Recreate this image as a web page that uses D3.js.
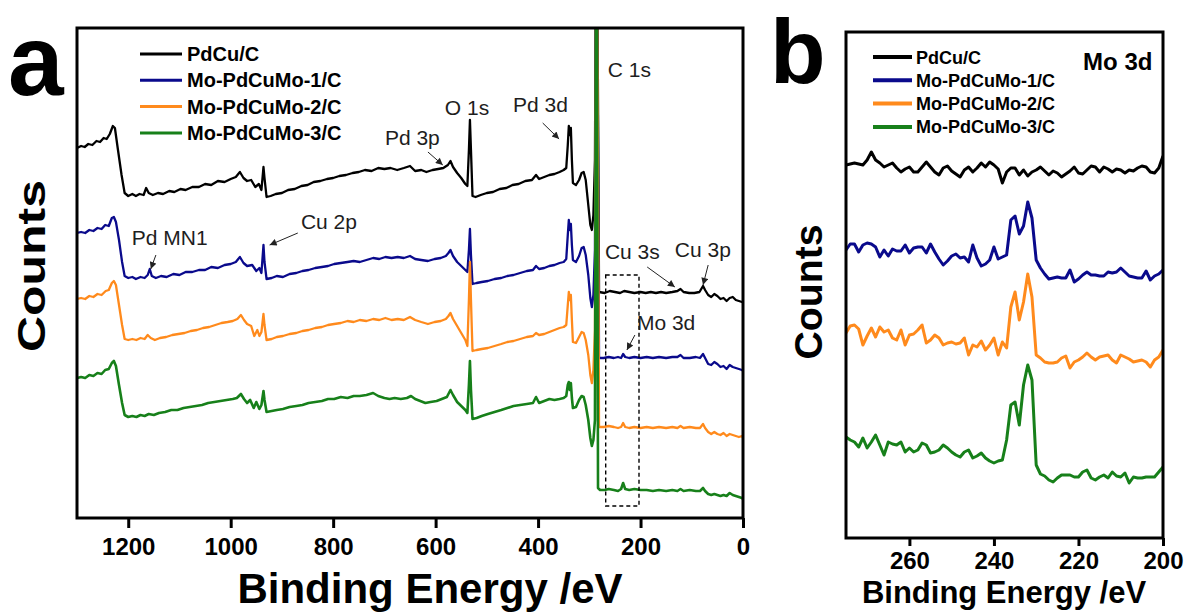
<!DOCTYPE html>
<html><head><meta charset="utf-8">
<script src="https://cdn.jsdelivr.net/npm/d3@7"></script>
<style>body{margin:0;background:#fff} svg{display:block} text{font-family:"Liberation Sans",Arial,sans-serif}</style>
</head><body><svg id="c" width="1190" height="612"></svg>
<script>
// ---------- DATA ----------
const seriesNames = ["PdCu/C", "Mo-PdCuMo-1/C", "Mo-PdCuMo-2/C", "Mo-PdCuMo-3/C"];
const seriesColors = ["#000000", "#0a0a8c", "#ff8a1c", "#17801a"];

// Survey spectra: [binding energy (eV), counts (a.u., offset)]
const surveyPdCu = [[1300,370],[1292,372],[1285,371],[1278,374],[1270,373],[1262,377],[1255,376],[1248,380],[1242,379],[1236,384],[1230,392],[1226,390],[1220,368],[1213,343],[1207,325],[1200,322],[1192,324],[1185,322],[1178,324],[1170,323],[1165,330],[1160,325],[1152,323],[1142,325],[1132,324],[1120,327],[1110,326],[1098,329],[1088,328],[1075,331],[1062,331],[1050,334],[1038,333],[1025,337],[1012,336],[1000,339],[990,341],[982,346],[975,340],[968,337],[960,338],[952,331],[945,334],[940,328],[936,351],[934,340],[930,321],[922,322],[912,324],[900,325],[888,328],[875,329],[862,332],[850,333],[838,336],[825,337],[812,339],[800,340],[788,342],[775,343],[762,345],[750,346],[738,348],[725,347],[712,350],[700,349],[688,350],[675,348],[662,350],[650,352],[640,347],[628,348],[618,346],[606,348],[595,349],[585,350],[576,353],[571,357],[566,351],[558,345],[550,340],[542,334],[538,332],[535,368],[533,398],[531,368],[528,322],[522,321],[512,323],[500,325],[488,326],[475,329],[462,330],[450,333],[438,334],[425,337],[412,338],[404,343],[398,339],[388,341],[378,343],[368,344],[358,346],[350,348],[345,350],[342,373],[340,392],[338,383],[336,390],[334,358],[332,335],[326,333],[320,338],[315,345],[311,346],[307,338],[302,313],[298,293],[295,288],[292,303],[289,358],[286,700],[281,226],[270,225],[260,227],[250,226],[240,225],[232,227],[222,226],[212,225],[200,226],[190,225],[180,226],[170,225],[160,226],[150,225],[138,226],[128,227],[122,229],[116,226],[105,225],[95,225],[85,226],[78,232],[74,228],[68,223],[62,221],[56,224],[50,222],[44,219],[38,220],[32,217],[26,220],[20,221],[14,218],[8,217],[2,216],[0,216]];

const surveyMo1 = [[1300,285],[1292,286],[1284,285],[1276,288],[1268,287],[1260,290],[1252,289],[1245,293],[1238,292],[1232,300],[1228,301],[1224,296],[1218,278],[1212,256],[1207,242],[1200,240],[1192,241],[1185,239],[1176,241],[1168,240],[1162,243],[1158,249],[1154,242],[1146,240],[1136,242],[1125,241],[1112,244],[1100,243],[1088,246],[1075,246],[1062,248],[1050,248],[1038,251],[1025,250],[1012,253],[1000,254],[990,256],[982,261],[975,255],[968,252],[958,253],[950,247],[944,250],[940,245],[936,273],[934,256],[930,239],[920,240],[910,242],[898,241],[885,244],[872,245],[860,247],[848,248],[835,250],[822,251],[810,252],[798,254],[785,255],[772,256],[760,257],[748,256],[735,258],[722,260],[710,259],[698,261],[686,260],[674,261],[662,260],[650,262],[640,259],[628,258],[615,257],[602,259],[590,260],[580,262],[575,265],[571,268],[566,262],[558,256],[550,252],[542,248],[538,246],[535,268],[533,289],[531,263],[528,234],[520,235],[510,236],[498,237],[485,239],[472,240],[460,242],[448,243],[435,245],[422,247],[410,248],[404,252],[398,249],[388,250],[378,252],[368,253],[358,255],[350,256],[345,259],[342,283],[340,298],[338,288],[336,294],[334,273],[332,258],[326,256],[320,262],[315,270],[311,271],[307,263],[302,243],[298,220],[295,211],[292,223],[289,268],[286,700],[281,160],[272,160],[262,161],[252,160],[244,161],[238,160],[234,164],[230,161],[222,160],[212,161],[200,160],[188,161],[176,160],[164,161],[150,160],[138,161],[128,161],[122,163],[116,160],[104,160],[92,161],[84,160],[78,164],[74,160],[68,154],[62,153],[56,156],[50,154],[44,151],[38,152],[32,149],[26,153],[20,151],[14,150],[8,149],[2,148],[0,147]];

const surveyMo2 = [[1300,219],[1292,220],[1284,219],[1276,222],[1268,221],[1260,224],[1252,223],[1244,227],[1238,228],[1232,235],[1228,237],[1224,233],[1218,213],[1212,193],[1207,179],[1200,178],[1192,179],[1184,178],[1176,180],[1168,179],[1162,183],[1156,180],[1148,178],[1138,180],[1126,181],[1114,183],[1102,184],[1090,185],[1078,187],[1066,188],[1054,190],[1042,191],[1030,193],[1018,195],[1006,196],[996,197],[987,199],[980,203],[974,198],[968,194],[960,192],[954,182],[948,188],[944,182],[940,186],[936,204],[934,193],[930,178],[920,179],[910,181],[898,182],[885,184],[872,185],[860,187],[848,188],[835,190],[822,191],[810,193],[798,194],[785,195],[772,197],[760,196],[748,198],[735,197],[722,199],[710,198],[698,200],[686,198],[674,199],[662,198],[650,201],[640,198],[628,196],[615,194],[602,196],[590,197],[580,199],[575,202],[571,205],[566,199],[558,192],[550,185],[542,178],[538,172],[535,218],[533,256],[531,218],[528,167],[520,168],[510,169],[498,170],[485,172],[472,174],[460,176],[448,177],[435,179],[422,181],[410,182],[404,185],[398,183],[388,184],[378,186],[368,188],[358,190],[350,191],[345,193],[342,213],[340,226],[338,218],[336,223],[334,198],[332,176],[326,175],[320,181],[315,186],[311,185],[307,178],[302,163],[298,143],[295,135],[292,148],[289,188],[286,700],[281,91],[272,91],[262,92],[252,91],[244,90],[238,91],[234,95],[230,91],[222,90],[212,91],[200,90],[188,91],[176,90],[164,91],[150,90],[138,91],[128,90],[122,92],[116,90],[104,91],[92,90],[84,90],[78,94],[74,90],[68,86],[62,84],[56,86],[50,84],[44,83],[38,85],[32,82],[26,84],[20,83],[14,82],[8,81],[2,82],[0,80]];

const surveyMo3 = [[1300,140],[1292,141],[1284,140],[1276,143],[1268,142],[1260,145],[1252,144],[1245,148],[1238,149],[1232,155],[1228,157],[1224,152],[1218,133],[1212,115],[1207,103],[1200,101],[1192,102],[1184,101],[1176,103],[1168,102],[1160,104],[1150,103],[1140,105],[1128,106],[1116,108],[1104,108],[1092,110],[1080,111],[1068,112],[1056,113],[1044,115],[1032,116],[1020,117],[1008,118],[996,119],[988,120],[980,124],[974,119],[968,115],[962,118],[955,110],[950,116],[944,109],[940,113],[936,127],[934,118],[930,106],[920,107],[910,108],[898,109],[885,111],[872,112],[860,113],[848,115],[835,116],[822,117],[810,119],[798,119],[785,121],[772,120],[760,122],[748,122],[735,123],[722,125],[712,122],[700,120],[690,119],[680,120],[668,119],[656,120],[648,122],[640,119],[630,117],[620,115],[610,116],[598,117],[588,119],[578,121],[571,128],[566,123],[558,116],[550,112],[542,108],[538,105],[535,133],[533,157],[531,128],[528,99],[520,100],[510,102],[498,104],[485,106],[472,108],[460,110],[448,112],[435,113],[422,114],[410,115],[404,121],[398,115],[388,117],[378,119],[368,118],[358,119],[350,120],[345,122],[342,133],[340,136],[338,128],[336,135],[334,120],[332,110],[326,111],[320,118],[315,122],[311,121],[307,113],[302,98],[298,80],[295,72],[292,78],[289,98],[286,700],[283,30],[279,28],[270,28],[262,29],[252,28],[244,27],[238,29],[234,35],[230,29],[222,28],[212,29],[200,28],[188,28],[176,27],[164,28],[150,27],[138,28],[128,27],[122,29],[116,27],[104,28],[92,27],[84,27],[78,30],[74,27],[68,24],[62,23],[56,24],[50,23],[44,22],[38,23],[32,22],[26,25],[20,23],[14,22],[8,21],[2,20],[0,19]];

// Mo 3d high-resolution region
const moEnergies = [275,274,273,272,271,270,269,268,267,266,265,264,263,262,261,260,259,258,257,256,255,254,253,252,251,250,249,248,247,246,245,244,243,242,241,240,239,238,237,236,235,234,233,232,231,230,229,228,227,226,225,224,223,222,221,220,219,218,217,216,215,214,213,212,211,210,209,208,207,206,205,204,203,202,201,200];
const moPdCu = [373,374,375,374,373,378,386,378,375,371,373,375,370,366,369,371,366,366,371,376,371,366,363,370,372,367,364,361,368,371,366,370,375,371,376,373,369,355,366,370,370,363,368,362,366,368,371,367,363,367,365,361,364,367,371,365,364,368,372,371,366,371,369,366,369,368,365,368,367,370,372,371,366,365,370,382];
const moMo1 = [288,294,294,286,293,295,294,291,281,288,282,289,287,287,293,285,290,291,291,285,294,286,279,273,277,282,284,280,281,276,293,280,272,274,278,291,279,281,283,318,322,304,312,336,320,278,270,264,259,260,261,260,260,268,256,259,263,266,263,263,262,262,266,265,266,270,266,262,261,260,260,267,258,262,264,268];
const moMo2 = [205,212,213,209,193,202,210,201,211,206,208,200,198,208,193,203,204,208,213,195,198,203,200,193,195,196,194,195,200,183,193,191,197,188,193,200,183,196,190,231,246,218,236,264,241,183,180,176,175,175,176,180,182,170,176,178,181,185,181,178,181,182,183,178,175,183,181,179,176,177,178,176,171,178,181,188];
const moMo3 = [101,98,96,91,100,90,96,103,93,83,96,94,93,96,86,90,86,88,95,93,85,86,88,93,90,86,83,81,86,88,80,82,85,80,77,75,77,78,98,133,136,113,153,173,158,73,64,62,58,56,60,63,63,63,61,61,66,68,60,58,61,63,60,66,62,61,65,55,61,60,60,61,61,61,66,71];

const ticksA = [1200, 1000, 800, 600, 400, 200, 0];
const ticksB = [260, 240, 220, 200];

// Peak annotations (text anchor and arrow in data units: eV, counts)
const peakLabels = [
  {text:"C 1s",   be:264, c:441},
  {text:"O 1s",   be:582, c:403},
  {text:"Pd 3d",  be:449, c:406, a:[391,395,359,379]},
  {text:"Pd 3p",  be:699, c:373, a:[615,366,586,353]},
  {text:"Pd MN1", be:1193, c:273, a:[1146,263,1156,249]},
  {text:"Cu 2p",  be:863, c:289, a:[869,285,924,273]},
  {text:"Cu 3s",  be:269.5, c:259, a:[187,251,133,231]},
  {text:"Cu 3p",  be:133, c:261, a:[68,253,78,233]},
  {text:"Mo 3d",  be:207, c:188, a:[211,183,226.6,168]}
];
const moWindow = {be0:268, be1:203, c0:12, c1:243};

// ---------- DRAW ----------
const svg = d3.select("#c");
const FONT = '"Liberation Sans",Arial,sans-serif';

const defs = svg.append("defs");
defs.append("marker").attr("id","arr").attr("viewBox","0 0 10 10")
  .attr("refX",10).attr("refY",5).attr("markerWidth",9).attr("markerHeight",7)
  .attr("markerUnits","userSpaceOnUse").attr("orient","auto")
  .append("path").attr("d","M0,0 L10,5 L0,10 z").attr("fill","#222");

// Panel a
const xA = d3.scaleLinear().domain([1300, 0]).range([77, 743]);
const yA = d3.scaleLinear().domain([0, 490]).range([518, 28]);
defs.append("clipPath").attr("id","clipA").append("rect")
  .attr("x",77).attr("y",28).attr("width",666).attr("height",490);

const gA = svg.append("g");
const lineA = d3.line().x(d=>xA(d[0])).y(d=>yA(d[1]));
const surveys = [surveyPdCu, surveyMo1, surveyMo2, surveyMo3];
const gAc = gA.append("g").attr("clip-path","url(#clipA)");
surveys.forEach((s,i)=>{
  gAc.append("path").datum(s).attr("d",lineA).attr("fill","none")
    .attr("stroke",seriesColors[i]).attr("stroke-width",i===3?2.6:2.3)
    .attr("stroke-linejoin","round");
});

// dashed window
gA.append("rect")
  .attr("x",xA(moWindow.be0)).attr("y",yA(moWindow.c1))
  .attr("width",xA(moWindow.be1)-xA(moWindow.be0)).attr("height",yA(moWindow.c0)-yA(moWindow.c1))
  .attr("fill","none").attr("stroke","#000").attr("stroke-width",1.4).attr("stroke-dasharray","4,3");

// annotations
peakLabels.forEach(p=>{
  gA.append("text").attr("x",xA(p.be)).attr("y",yA(p.c)).text(p.text)
    .attr("font-size",21).attr("fill","#1e1e1e").attr("font-family",FONT);
  if(p.a){
    gA.append("line").attr("x1",xA(p.a[0])).attr("y1",yA(p.a[1]))
      .attr("x2",xA(p.a[2])).attr("y2",yA(p.a[3]))
      .attr("stroke","#222").attr("stroke-width",1).attr("marker-end","url(#arr)");
  }
});

// frame & axis
gA.append("rect").attr("x",77).attr("y",28).attr("width",666).attr("height",490)
  .attr("fill","none").attr("stroke","#000").attr("stroke-width",3);
const axA = gA.append("g").attr("transform","translate(0,518)")
  .call(d3.axisBottom(xA).tickValues(ticksA).tickFormat(d3.format("d")).tickSize(10).tickSizeOuter(0).tickPadding(10));
axA.select(".domain").remove();
axA.selectAll("line").attr("stroke-width",3);
axA.selectAll("text").attr("font-size",24).attr("font-weight","bold").attr("font-family",FONT).attr("fill","#000");

gA.append("text").attr("x",430).attr("y",603).attr("text-anchor","middle")
  .attr("font-size",42).attr("font-weight","bold").attr("font-family",FONT).text("Binding Energy /eV");
gA.append("text").attr("transform","translate(45,266) rotate(-90)").attr("text-anchor","middle")
  .attr("font-size",39).attr("font-weight","bold").attr("font-family",FONT)
  .attr("textLength",172).attr("lengthAdjust","spacingAndGlyphs").text("Counts");
gA.append("text").attr("x",8).attr("y",95).attr("font-size",100).attr("font-weight","bold")
  .attr("font-family",FONT).text("a");

// legend a
seriesNames.forEach((n,i)=>{
  const y = 54 + i*26.3;
  gA.append("line").attr("x1",140).attr("x2",182).attr("y1",y).attr("y2",y)
    .attr("stroke",seriesColors[i]).attr("stroke-width",3);
  gA.append("text").attr("x",187).attr("y",y+7).text(n).attr("font-size",20)
    .attr("font-weight","bold").attr("font-family",FONT);
});

// Panel b
const xB = d3.scaleLinear().domain([275, 200]).range([846, 1163]);
const yB = d3.scaleLinear().domain([0, 506]).range([538, 32]);
defs.append("clipPath").attr("id","clipB").append("rect")
  .attr("x",846).attr("y",32).attr("width",317).attr("height",506);
const gB = svg.append("g");
const gBc = gB.append("g").attr("clip-path","url(#clipB)");
const moSeries = [moPdCu, moMo1, moMo2, moMo3];
const lineB = d3.line().x((d,i)=>xB(moEnergies[i])).y(d=>yB(d));
moSeries.forEach((s,i)=>{
  gBc.append("path").datum(s).attr("d",lineB).attr("fill","none")
    .attr("stroke",seriesColors[i]).attr("stroke-width",3).attr("stroke-linejoin","round");
});
gB.append("rect").attr("x",846).attr("y",32).attr("width",317).attr("height",506)
  .attr("fill","none").attr("stroke","#000").attr("stroke-width",3);
const axB = gB.append("g").attr("transform","translate(0,538)")
  .call(d3.axisBottom(xB).tickValues(ticksB).tickFormat(d3.format("d")).tickSize(8).tickSizeOuter(0).tickPadding(6));
axB.select(".domain").remove();
axB.selectAll("line").attr("stroke-width",3);
axB.selectAll("text").attr("font-size",24).attr("font-weight","bold").attr("font-family",FONT).attr("fill","#000");

gB.append("text").attr("x",1004).attr("y",603).attr("text-anchor","middle")
  .attr("font-size",31).attr("font-weight","bold").attr("font-family",FONT).text("Binding Energy /eV");
gB.append("text").attr("transform","translate(822,292) rotate(-90)").attr("text-anchor","middle")
  .attr("font-size",38).attr("font-weight","bold").attr("font-family",FONT)
  .attr("textLength",135).attr("lengthAdjust","spacingAndGlyphs").text("Counts");
gB.append("text").attr("x",770).attr("y",83).attr("font-size",91).attr("font-weight","bold")
  .attr("font-family",FONT).text("b");
gB.append("text").attr("x",xB(202.5)).attr("y",yB(468)).attr("text-anchor","end")
  .attr("font-size",24).attr("font-weight","bold").attr("font-family",FONT).text("Mo 3d");

seriesNames.forEach((n,i)=>{
  const y = 57 + i*23.3;
  gB.append("line").attr("x1",873).attr("x2",912).attr("y1",y).attr("y2",y)
    .attr("stroke",seriesColors[i]).attr("stroke-width",4);
  gB.append("text").attr("x",916).attr("y",y+6.5).text(n).attr("font-size",18)
    .attr("font-weight","bold").attr("font-family",FONT);
});
</script>
</body></html>
